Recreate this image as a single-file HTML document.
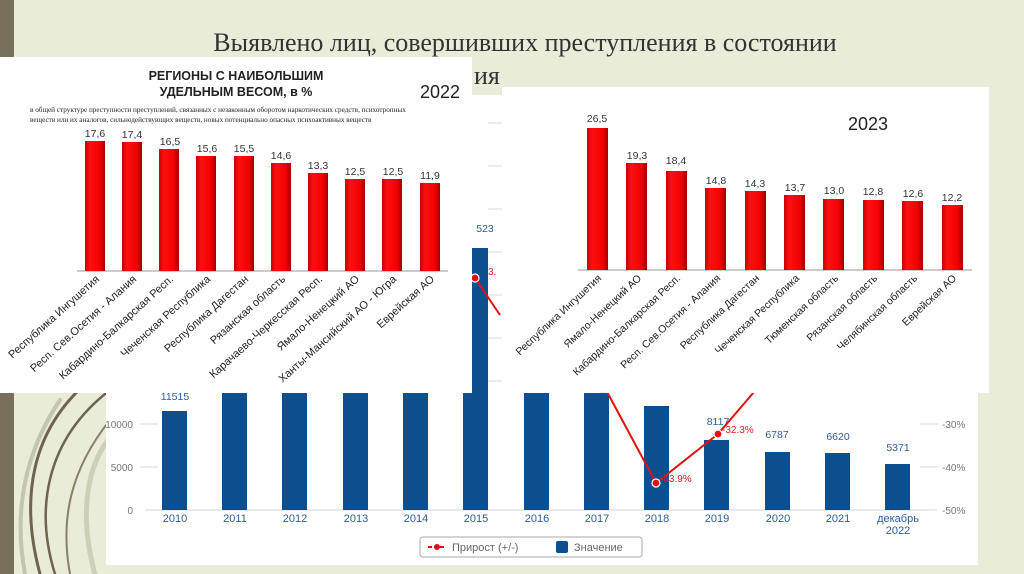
<!DOCTYPE html>
<html><head><meta charset="utf-8"><style>
html,body{margin:0;padding:0;background:#e8ecd8;}
svg{display:block;font-family:"Liberation Sans",sans-serif;}
</style></head><body>
<svg width="1024" height="574" viewBox="0 0 1024 574" xmlns="http://www.w3.org/2000/svg">
<defs>
<linearGradient id="rb" x1="0" x2="1" y1="0" y2="0">
<stop offset="0" stop-color="#c80000"/><stop offset="0.25" stop-color="#ff1010"/><stop offset="0.75" stop-color="#f00000"/><stop offset="1" stop-color="#a00000"/>
</linearGradient>
<clipPath id="bc"><rect x="106" y="95" width="872" height="470"/></clipPath>
</defs>
<rect width="1024" height="574" fill="#e8ecd8"/>
<rect x="0" y="0" width="14" height="574" fill="#776f58"/>
<g fill="none" stroke-linecap="round">
<path d="M40 574 C20 500 30 430 90 380" stroke="#6e6450" stroke-width="3"/>
<path d="M55 574 C35 510 45 440 110 390" stroke="#6e6450" stroke-width="2.5"/>
<path d="M70 574 C60 520 70 470 110 420" stroke="#8a806a" stroke-width="2"/>
<path d="M25 574 C15 520 20 460 60 400" stroke="#c2c6ae" stroke-width="4"/>
<path d="M95 574 C80 520 85 470 108 440" stroke="#ccd0b8" stroke-width="5"/>
</g>
<text x="525" y="51" text-anchor="middle" font-family="Liberation Serif, serif" font-size="26" fill="#333">Выявлено лиц, совершивших преступления в состоянии</text>
<text x="474" y="84" font-family="Liberation Serif, serif" font-size="26" fill="#333">ия</text>

<rect x="106" y="95" width="872" height="470" fill="#fff"/>
<g stroke="#d8d8d8" stroke-width="1">
<line x1="140" y1="424" x2="158" y2="424"/><line x1="140" y1="467" x2="158" y2="467"/>
<line x1="920" y1="424" x2="938" y2="424"/><line x1="920" y1="467" x2="938" y2="467"/><line x1="920" y1="510" x2="938" y2="510"/>
<line x1="488" y1="123" x2="502" y2="123"/><line x1="488" y1="166" x2="502" y2="166"/><line x1="488" y1="209" x2="502" y2="209"/><line x1="488" y1="252" x2="502" y2="252"/><line x1="488" y1="295" x2="502" y2="295"/><line x1="488" y1="338" x2="502" y2="338"/><line x1="488" y1="381" x2="502" y2="381"/>
</g>
<line x1="145" y1="510" x2="930" y2="510" stroke="#ccd6e0" stroke-width="1"/>
<g font-size="10" fill="#777" text-anchor="end" clip-path="url(#bc)">
<text x="133" y="428">10000</text><text x="133" y="471">5000</text><text x="133" y="514">0</text>
</g>
<g font-size="10" fill="#777">
<text x="942" y="428">-30%</text><text x="942" y="471">-40%</text><text x="942" y="514">-50%</text>
</g>
<g fill="#0c4f8f">
<rect x="162" y="411" width="25" height="99"/>
<rect x="222" y="300" width="25" height="210"/>
<rect x="282" y="300" width="25" height="210"/>
<rect x="343" y="300" width="25" height="210"/>
<rect x="403" y="300" width="25" height="210"/>
<rect x="463" y="248" width="25" height="262"/>
<rect x="524" y="300" width="25" height="210"/>
<rect x="584" y="300" width="25" height="210"/>
<rect x="644" y="406" width="25" height="104"/>
<rect x="704" y="440" width="25" height="70"/>
<rect x="765" y="452" width="25" height="58"/>
<rect x="825" y="453" width="25" height="57"/>
<rect x="885" y="464" width="25" height="46"/>
</g>
<g font-size="10.5" fill="#2a5d9a" text-anchor="middle">
<text x="175" y="400">11515</text>
<text x="485" y="232">523</text>
<text x="718" y="425">8117</text>
<text x="777" y="438">6787</text>
<text x="838" y="440">6620</text>
<text x="898" y="451">5371</text>
</g>
<g font-size="11" fill="#2a5d9a" text-anchor="middle">
<text x="175" y="522">2010</text><text x="235" y="522">2011</text><text x="295" y="522">2012</text><text x="356" y="522">2013</text><text x="416" y="522">2014</text><text x="476" y="522">2015</text><text x="537" y="522">2016</text><text x="597" y="522">2017</text><text x="657" y="522">2018</text><text x="717" y="522">2019</text><text x="778" y="522">2020</text><text x="838" y="522">2021</text><text x="898" y="522">декабрь</text><text x="898" y="534">2022</text>
</g>
<polyline points="475,278 500,315" fill="none" stroke="#e01010" stroke-width="2"/>
<polyline points="605,388 656,483 718,434 760,385" fill="none" stroke="#e01010" stroke-width="2"/>
<g fill="#e01010" stroke="#fff" stroke-width="1.2">
<circle cx="475" cy="278" r="4"/><circle cx="656" cy="483" r="4"/><circle cx="718" cy="434" r="4"/>
</g>
<g font-size="10" fill="#e02020">
<text x="488" y="275">3.</text>
<text x="660" y="482">-43.9%</text>
<text x="722" y="433">-32.3%</text>
</g>
<rect x="420" y="537" width="222" height="20" rx="3" fill="#fff" stroke="#aaa"/>
<line x1="428" y1="547" x2="446" y2="547" stroke="#e01010" stroke-width="2" stroke-dasharray="4,2"/>
<circle cx="437" cy="547" r="3" fill="#e01010"/>
<text x="452" y="551" font-size="11" fill="#666">Прирост (+/-)</text>
<rect x="556" y="541" width="12" height="12" rx="2" fill="#0c4f8f"/>
<text x="574" y="551" font-size="11" fill="#666">Значение</text>

<rect x="0" y="57" width="472" height="336" fill="#fff"/>
<text x="236" y="80" text-anchor="middle" font-size="12.5" font-weight="bold" fill="#222">РЕГИОНЫ С НАИБОЛЬШИМ</text>
<text x="236" y="96" text-anchor="middle" font-size="12.5" font-weight="bold" fill="#222">УДЕЛЬНЫМ ВЕСОМ, в %</text>
<text x="420" y="98" font-size="18" fill="#222">2022</text>
<text x="30" y="112" font-family="Liberation Serif, serif" font-size="7.2" fill="#222">в общей структуре преступности преступлений, связанных с незаконным оборотом наркотических средств, психотропных</text>
<text x="30" y="122" font-family="Liberation Serif, serif" font-size="7.2" fill="#222">веществ или их аналогов, сильнодействующих веществ, новых потенциально опасных психоактивных веществ</text>
<line x1="77" y1="271" x2="448" y2="271" stroke="#999"/>
<g fill="url(#rb)">
<rect x="85" y="141" width="20" height="130"/>
<rect x="122" y="142" width="20" height="129"/>
<rect x="159" y="149" width="20" height="122"/>
<rect x="196" y="156" width="20" height="115"/>
<rect x="234" y="156" width="20" height="115"/>
<rect x="271" y="163" width="20" height="108"/>
<rect x="308" y="173" width="20" height="98"/>
<rect x="345" y="179" width="20" height="92"/>
<rect x="382" y="179" width="20" height="92"/>
<rect x="420" y="183" width="20" height="88"/>
</g>
<g font-size="10.5" fill="#333" text-anchor="middle">
<text x="95" y="137">17,6</text><text x="132" y="138">17,4</text><text x="170" y="145">16,5</text><text x="207" y="152">15,6</text><text x="244" y="152">15,5</text><text x="281" y="159">14,6</text><text x="318" y="169">13,3</text><text x="355" y="175">12,5</text><text x="393" y="175">12,5</text><text x="430" y="179">11,9</text>
</g>
<g font-size="11" fill="#222" text-anchor="end">
<text transform="translate(100,280) rotate(-42)">Республика Ингушетия</text>
<text transform="translate(137,280) rotate(-42)">Респ. Сев.Осетия - Алания</text>
<text transform="translate(174,280) rotate(-42)">Кабардино-Балкарская Респ.</text>
<text transform="translate(211,280) rotate(-42)">Чеченская Республика</text>
<text transform="translate(249,280) rotate(-42)">Республика Дагестан</text>
<text transform="translate(286,280) rotate(-42)">Рязанская область</text>
<text transform="translate(323,280) rotate(-42)">Карачаево-Черкесская Респ.</text>
<text transform="translate(360,280) rotate(-42)">Ямало-Ненецкий АО</text>
<text transform="translate(397,280) rotate(-42)">Ханты-Мансийский АО - Югра</text>
<text transform="translate(435,280) rotate(-42)">Еврейская АО</text>
</g>

<rect x="502" y="87" width="487" height="306" fill="#fff"/>
<text x="848" y="130" font-size="18" fill="#222">2023</text>
<line x1="578" y1="270" x2="972" y2="270" stroke="#999"/>
<g fill="url(#rb)">
<rect x="587" y="128" width="21" height="142"/>
<rect x="626" y="163" width="21" height="107"/>
<rect x="666" y="171" width="21" height="99"/>
<rect x="705" y="188" width="21" height="82"/>
<rect x="745" y="191" width="21" height="79"/>
<rect x="784" y="195" width="21" height="75"/>
<rect x="823" y="199" width="21" height="71"/>
<rect x="863" y="200" width="21" height="70"/>
<rect x="902" y="201" width="21" height="69"/>
<rect x="942" y="205" width="21" height="65"/>
</g>
<g font-size="10.5" fill="#333" text-anchor="middle">
<text x="597" y="122">26,5</text><text x="637" y="159">19,3</text><text x="676" y="164">18,4</text><text x="716" y="184">14,8</text><text x="755" y="187">14,3</text><text x="795" y="191">13,7</text><text x="834" y="194">13,0</text><text x="873" y="195">12,8</text><text x="913" y="197">12,6</text><text x="952" y="201">12,2</text>
</g>
<g font-size="10.5" fill="#222" text-anchor="end">
<text transform="translate(602,279) rotate(-43)">Республика Ингушетия</text>
<text transform="translate(642,279) rotate(-43)">Ямало-Ненецкий АО</text>
<text transform="translate(681,279) rotate(-43)">Кабардино-Балкарская Респ.</text>
<text transform="translate(721,279) rotate(-43)">Респ. Сев.Осетия - Алания</text>
<text transform="translate(760,279) rotate(-43)">Республика Дагестан</text>
<text transform="translate(800,279) rotate(-43)">Чеченская Республика</text>
<text transform="translate(839,279) rotate(-43)">Тюменская область</text>
<text transform="translate(878,279) rotate(-43)">Рязанская область</text>
<text transform="translate(918,279) rotate(-43)">Челябинская область</text>
<text transform="translate(957,279) rotate(-43)">Еврейская АО</text>
</g>
</svg>
</body></html>
